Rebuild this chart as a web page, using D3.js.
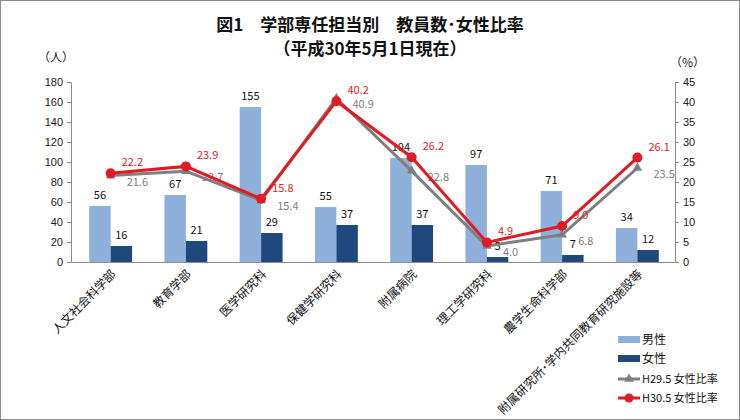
<!DOCTYPE html>
<html><head><meta charset="utf-8">
<script src="https://cdn.jsdelivr.net/npm/d3@7/dist/d3.min.js"></script>
<style>
body{margin:0;background:#fff;}
text{font-family:"Noto Sans CJK JP","Noto Sans",sans-serif;}
</style></head>
<body><svg id="c" width="740" height="420"></svg>
<script>
const categories = ["人文社会科学部","教育学部","医学研究科","保健学研究科","附属病院","理工学研究科","農学生命科学部","附属研究所･学内共同教育研究施設等"];
const male = [56,67,155,55,104,97,71,34];
const female = [16,21,29,37,37,5,7,12];
const rateH29 = [21.6,22.7,15.4,40.9,22.8,4.0,6.8,23.5];
const rateH30 = [22.2,23.9,15.8,40.2,26.2,4.9,9.0,26.1];
const leftTicks = [0,20,40,60,80,100,120,140,160,180];
const rightTicks = [0,5,10,15,20,25,30,35,40,45];

const svg = d3.select("#c");
svg.append("rect").attr("x",0.5).attr("y",0.5).attr("width",739).attr("height",419)
  .attr("fill","#fff").attr("stroke","#8c8c8c");

const L=71, R=675, T=82, B=262;
const x = d3.scaleBand().domain(categories).range([L+2,R]).paddingInner(0.43).paddingOuter(0.215);
const xs = d3.scaleBand().domain(["m","f"]).range([0,x.bandwidth()]);
const yL = d3.scaleLinear().domain([0,180]).range([B,T]);
const yR = d3.scaleLinear().domain([0,45]).range([B,T]);
const cx = c => x(c)+x.bandwidth()/2;

// title
svg.append("text").attr("x",370).attr("y",31).attr("text-anchor","middle")
  .attr("font-size",17).attr("font-weight","bold").attr("fill","#111")
  .text("図1　学部専任担当別　教員数･女性比率");
svg.append("text").attr("x",370).attr("y",55).attr("text-anchor","middle")
  .attr("font-size",17).attr("font-weight","bold").attr("fill","#111")
  .text("（平成30年5月1日現在）");
svg.append("text").attr("x",38).attr("y",62).attr("font-size",12).attr("fill","#222").text("（人）");
svg.append("text").attr("x",670).attr("y",67).attr("font-size",12).attr("fill","#222").text("（%）");

// bars
const g = svg.append("g");
categories.forEach((c,i)=>{
  g.append("rect").attr("x",x(c)+xs("m")).attr("y",yL(male[i])).attr("width",xs.bandwidth())
    .attr("height",B-yL(male[i])).attr("fill","#8eb0da");
  g.append("rect").attr("x",x(c)+xs("f")).attr("y",yL(female[i])).attr("width",xs.bandwidth())
    .attr("height",B-yL(female[i])).attr("fill","#1f497d");
  g.append("text").attr("x",x(c)+xs("m")+xs.bandwidth()/2).attr("y",yL(male[i])-7)
    .attr("text-anchor","middle").attr("font-size",11).attr("fill","#111").text(male[i]);
  g.append("text").attr("x",x(c)+xs("f")+xs.bandwidth()/2).attr("y",yL(female[i])-7)
    .attr("text-anchor","middle").attr("font-size",11).attr("fill","#111").text(female[i]);
});

// axes
const axL = svg.append("g").attr("transform",`translate(${L},0)`)
  .call(d3.axisLeft(yL).tickValues(leftTicks).tickSize(4).tickPadding(4));
const axR = svg.append("g").attr("transform",`translate(${R},0)`)
  .call(d3.axisRight(yR).tickValues(rightTicks).tickSize(4).tickPadding(4));
const axB = svg.append("g").attr("transform",`translate(0,${B})`)
  .call(d3.axisBottom(x).tickSize(0).tickFormat(""));
axB.select("path").attr("d",`M${L},0.5H${R}`);
[axL,axR,axB].forEach(a=>{
  a.selectAll("path,line").attr("stroke","#8c8c8c");
  a.selectAll("text").attr("font-size",11).attr("fill","#222")
   .style("font-family","'Liberation Sans',Arial,sans-serif");
});

// category labels
categories.forEach(c=>{
  svg.append("text").attr("transform",`translate(${cx(c)+3},${B+10}) rotate(-45)`)
    .attr("text-anchor","end").attr("dy","0.35em").attr("font-size",12).attr("fill","#111").text(c);
});

// lines
const line = d => d3.line().x((v,i)=>cx(categories[i])).y(v=>yR(v))(d);
svg.append("path").attr("d",line(rateH29)).attr("fill","none").attr("stroke","#7f7f7f").attr("stroke-width",3);
rateH29.forEach((v,i)=>{
  svg.append("path").attr("d",d3.symbol(d3.symbolTriangle,40)())
    .attr("transform",`translate(${cx(categories[i])},${yR(v)})`).attr("fill","#7f7f7f");
  svg.append("text").attr("x",cx(categories[i])+16).attr("y",yR(v)+10)
    .attr("font-size",11).attr("fill","#808080").text(v.toFixed(1));
});
svg.append("path").attr("d",line(rateH30)).attr("fill","none").attr("stroke","#e01b22").attr("stroke-width",3);
rateH30.forEach((v,i)=>{
  svg.append("circle").attr("cx",cx(categories[i])).attr("cy",yR(v)).attr("r",5).attr("fill","#e01b22");
  svg.append("text").attr("x",cx(categories[i])+11).attr("y",yR(v)-7)
    .attr("font-size",11).attr("fill","#e01b22").text(v.toFixed(1));
});

// legend
const lg = svg.append("g");
const lx = 618;
lg.append("rect").attr("x",lx).attr("y",336).attr("width",22).attr("height",7).attr("fill","#8eb0da");
lg.append("text").attr("x",lx+24).attr("y",344).attr("font-size",12).attr("fill","#111").text("男性");
lg.append("rect").attr("x",lx).attr("y",355).attr("width",22).attr("height",7).attr("fill","#1f497d");
lg.append("text").attr("x",lx+24).attr("y",363).attr("font-size",12).attr("fill","#111").text("女性");
lg.append("line").attr("x1",lx).attr("x2",lx+22).attr("y1",379).attr("y2",379).attr("stroke","#7f7f7f").attr("stroke-width",3);
lg.append("path").attr("d",d3.symbol(d3.symbolTriangle,40)()).attr("transform",`translate(${lx+11},379)`).attr("fill","#7f7f7f");
lg.append("text").attr("x",lx+24).attr("y",383).attr("font-size",11).attr("fill","#111").text("H29.5 女性比率");
lg.append("line").attr("x1",lx).attr("x2",lx+22).attr("y1",398).attr("y2",398).attr("stroke","#e01b22").attr("stroke-width",3);
lg.append("circle").attr("cx",lx+11).attr("cy",398).attr("r",4.5).attr("fill","#e01b22");
lg.append("text").attr("x",lx+24).attr("y",402).attr("font-size",11).attr("fill","#111").text("H30.5 女性比率");
</script></body></html>
